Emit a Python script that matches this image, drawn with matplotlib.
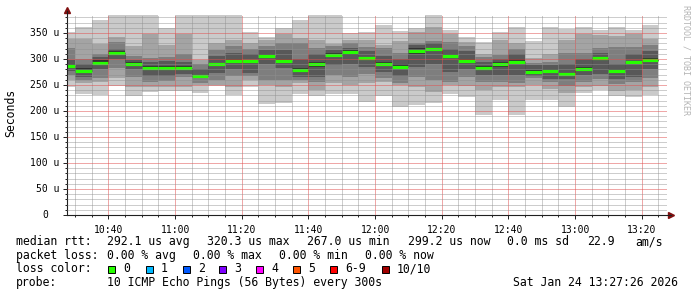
import numpy as np
import matplotlib
matplotlib.use("Agg")
import matplotlib.pyplot as plt
from matplotlib.patches import Rectangle
from matplotlib.transforms import blended_transform_factory

# --- data --------------------------------------------------------------
# time axis in minutes since midnight
view_start = 10 * 60 + 27 + 26 / 60    # 10:27:26
view_end = 13 * 60 + 27 + 26 / 60      # 13:27:26
first_bin_end = 10 * 60 + 30           # first 5 min bin ends at 10:30
bin_len = 5

# 10 sorted ping times (us) per 5 minute bin
pings = [
    [246, 260, 270, 276, 283, 290, 299, 322, 338, 352],
    [233, 253, 260, 266, 273, 282, 290, 300, 338, 362],
    [231, 256, 263, 280, 288, 298, 303, 310, 329, 375],
    [248, 264, 282, 300, 308, 316, 319, 333, 343, 385],
    [228, 246, 266, 280, 286, 294, 299, 306, 325, 385],
    [237, 246, 256, 267, 280, 286, 295, 301, 348, 385],
    [239, 246, 258, 267, 280, 286, 296, 303, 327, 359],
    [239, 246, 265, 271, 280, 286, 295, 309, 349, 385],
    [234, 250, 254, 263, 265, 270, 280, 290, 298, 385],
    [248, 250, 260, 274, 286, 293, 305, 317, 331, 385],
    [231, 246, 268, 280, 292, 300, 311, 325, 336, 385],
    [246, 260, 268, 274, 292, 299, 310, 320, 331, 351],
    [213, 250, 260, 290, 302, 310, 317, 325, 336, 343],
    [216, 246, 260, 282, 293, 300, 317, 331, 349, 359],
    [233, 253, 260, 265, 275, 283, 300, 331, 340, 375],
    [229, 240, 256, 265, 284, 295, 310, 322, 337, 385],
    [233, 253, 270, 288, 303, 312, 318, 325, 329, 385],
    [233, 250, 266, 290, 308, 317, 322, 330, 337, 350],
    [218, 253, 271, 285, 298, 304, 315, 324, 337, 351],
    [228, 256, 263, 275, 287, 294, 305, 321, 327, 365],
    [208, 250, 254, 268, 280, 290, 300, 311, 335, 354],
    [212, 247, 266, 285, 309, 322, 327, 330, 351, 359],
    [215, 237, 260, 290, 316, 322, 330, 335, 362, 385],
    [233, 250, 256, 275, 302, 310, 320, 333, 348, 356],
    [226, 248, 266, 280, 292, 300, 315, 325, 333, 343],
    [192, 240, 256, 270, 280, 286, 295, 304, 310, 333],
    [221, 246, 256, 270, 285, 295, 300, 308, 337, 351],
    [192, 246, 253, 270, 290, 300, 310, 319, 331, 362],
    [221, 250, 263, 268, 273, 278, 288, 293, 301, 335],
    [221, 242, 255, 262, 273, 281, 288, 295, 309, 362],
    [208, 234, 248, 262, 268, 274, 290, 311, 337, 357],
    [234, 247, 255, 270, 278, 285, 300, 311, 349, 362],
    [240, 248, 262, 272, 298, 304, 312, 321, 346, 356],
    [228, 238, 252, 262, 274, 281, 290, 324, 344, 361],
    [226, 240, 255, 266, 290, 297, 310, 324, 349, 355],
    [231, 246, 263, 280, 295, 301, 315, 327, 338, 365],
]

x_major = [10 * 60 + 40, 11 * 60, 11 * 60 + 20, 11 * 60 + 40, 12 * 60,
           12 * 60 + 20, 12 * 60 + 40, 13 * 60, 13 * 60 + 20]
y_major = [0, 50, 100, 150, 200, 250, 300, 350]

legend_rtt = [("median rtt:", 16), ("292.1 us avg", 107.3), ("320.3 us max", 207.3),
              ("267.0 us min", 306.7), ("299.2 us now", 407.7), ("0.0 ms sd", 506.7),
              ("22.9", 586.7), ("am/s", 635)]
legend_loss = [("packet loss:", 16), ("0.00 % avg", 107.3), ("0.00 % max", 193.3),
               ("0.00 % min", 279.3), ("0.00 % now", 365)]
loss_labels = ["0", "1", "2", "3", "4", "5", "6-9", "10/10"]
loss_colors = ["#26ff00", "#00b8ff", "#0059ff", "#7e00ff", "#ff00ff",
               "#ff5500", "#ff0000", "#a10000"]
loss_box_x = [108.3, 145.7, 182.7, 219.3, 256, 293.3, 330, 381.7]
probe_text = "10 ICMP Echo Pings (56 Bytes) every 300s"
stamp_text = "Sat Jan 24 13:27:26 2026"

# smoke greys from outer pair to inner pair
smoke = ["#cacaca", "#a4a4a4", "#7e7e7e", "#585858", "#323232"]

W, H = 697, 297
MONO = "DejaVu Sans Mono"

fig = plt.figure(figsize=(W / 100, H / 100), dpi=100)
fig.patch.set_facecolor("white")
ax = fig.add_axes([66.5 / W, 1 - 215 / H, 600 / W, 200 / H])
ax.set_facecolor("white")

pings = np.array(pings, dtype=float)
bin_ends = first_bin_end + bin_len * np.arange(len(pings))
lefts = bin_ends - bin_len

# smoke bands
for j in range(9):
    shade = smoke[min(j, 8 - j)]
    ax.bar(lefts, pings[:, j + 1] - pings[:, j], bottom=pings[:, j], width=bin_len,
           align="edge", color=shade, linewidth=0, antialiased=False, zorder=1)

# median
med = np.median(pings, axis=1)
ax.step(np.append(lefts, bin_ends[-1]), np.append(med, med[-1]), where="post",
        color="#202020", lw=0.7, zorder=1.5)
ax.hlines(med, lefts, bin_ends, colors=loss_colors[0], lw=2.3, zorder=1.6)

ax.set_xlim(view_start, view_end)
ax.set_ylim(0, 384.6)

ax.set_xticks(x_major)
ax.set_xticks(np.arange(10 * 60 + 30, view_end, 5), minor=True)
ax.set_xticklabels(["%d:%02d" % (m // 60, m % 60) for m in x_major],
                   family=MONO, fontsize=7)
ax.set_yticks(y_major)
ax.set_yticks(np.arange(10, 385, 10), minor=True)
ax.set_yticklabels([])

ax.set_axisbelow(False)
ax.grid(which="minor", color="#909090", alpha=0.45, lw=0.72, ls=(0, (1, 1)),
        antialiased=False)
ax.grid(which="major", color="#e05050", alpha=0.5, lw=0.72, ls=(0, (1, 1)),
        antialiased=False)

ax.tick_params(which="major", length=3, width=0.7, color="#202020", pad=4)
ax.tick_params(which="minor", length=1.5, width=0.7, color="#202020")
for s in ["top", "right"]:
    ax.spines[s].set_visible(False)
for s in ["bottom", "left"]:
    ax.spines[s].set_color("#202020")
    ax.spines[s].set_linewidth(0.8)
ax.spines["bottom"].set_bounds(view_start, view_end + 1.2)
ax.spines["left"].set_bounds(0, 392)
ax.plot([1.008], [0], marker=">", ms=4, color="#801010", transform=ax.transAxes, clip_on=False)
ax.plot([0], [1.025], marker="^", ms=4, color="#801010", transform=ax.transAxes, clip_on=False)

# y tick labels (rrdtool style, "0" has no unit)
ytr = blended_transform_factory(ax.transAxes, ax.transData)
for v in y_major:
    if v == 0:
        ax.text((48 - 66.5) / 600, v, "0", transform=ytr, ha="right", va="center",
                family=MONO, fontsize=7)
    else:
        ax.text((59.5 - 66.5) / 600, v, "%d u" % v, transform=ytr, ha="right",
                va="center", family=MONO, fontsize=7)

fig.text(11 / W, 1 - 113 / H, "Seconds", rotation=90, ha="center", va="center",
         family=MONO, fontsize=8.3)
fig.text(686 / W, 1 - 60 / H, "RRDTOOL / TOBI OETIKER", rotation=-90, ha="center",
         va="center", family=MONO, fontsize=6, color="#b4b4b4")

# legend
def line(items, y):
    for txt, x in items:
        fig.text(x / W, 1 - y / H, txt, ha="left", va="center", family=MONO, fontsize=8.3)

line(legend_rtt, 241.7)
line(legend_loss, 255.2)
line([("loss color:", 16)], 269)
for lab, col, bx in zip(loss_labels, loss_colors, loss_box_x):
    fig.add_artist(Rectangle((bx / W, 1 - 273 / H), 7 / W, 7 / H, transform=fig.transFigure,
                             facecolor=col, edgecolor="black", lw=0.7))
    fig.text((bx + 15) / W, 1 - 269 / H, lab, ha="left", va="center", family=MONO,
             fontsize=8.3)
line([("probe:", 16), (probe_text, 107.3), (stamp_text, 513.3)], 282.7)

fig.savefig("out.png", dpi=100, facecolor="white")
